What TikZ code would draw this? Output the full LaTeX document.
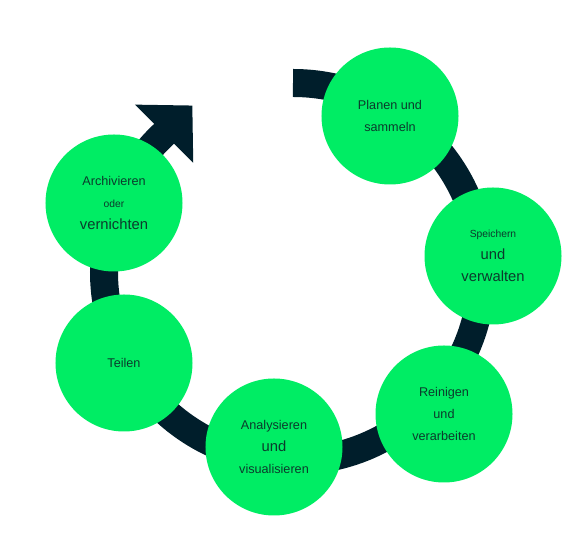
\documentclass[tikz,border=0pt]{standalone}
\usepackage{fontspec}
\setmainfont{Liberation Sans}
\usetikzlibrary{arrows.meta}
\definecolor{leaf}{HTML}{00ED64}
\definecolor{ink}{HTML}{001E2B}
\definecolor{moss}{HTML}{0B3B2C}
\newcommand{\txtS}{\fontsize{8.8}{19}\selectfont}
\newcommand{\txtM}{\fontsize{10.8}{19}\selectfont}
\newcommand{\txtL}{\fontsize{12.6}{19}\selectfont}
\tikzset{stage/.style={circle,fill=leaf,minimum size=4.11cm,inner sep=0pt,align=center,text=moss,font=\txtM}}

\begin{document}
\begin{tikzpicture}[x=0.03cm,y=0.03cm]
\useasboundingbox (0,0) rectangle (581,539);
% ring with arrow
\draw[ink,line width=0.84cm,-{Triangle[length=1.2cm,width=2.4cm]}] (293,456) arc[start angle=90,end angle=-227,radius=189] -- ++(45:40);
\node[stage] (plan) at (390,423) {Planen und\\sammeln};
\node[stage] (store) at (493,283) {{\txtS Speichern}\\{\txtL und}\\{\txtL verwalten}};
\node[stage] (clean) at (444,125) {{\txtM Reinigen}\\{\txtM und}\\{\txtM verarbeiten}};
\node[stage] (study) at (274,92) {Analysieren\\{\txtL und}\\visualisieren};
\node[stage] (share) at (124,176) {Teilen};
\node[stage] (keep) at (114,336) {Archivieren\\{\txtS oder}\\{\txtL vernichten}};
\end{tikzpicture}
\end{document}
